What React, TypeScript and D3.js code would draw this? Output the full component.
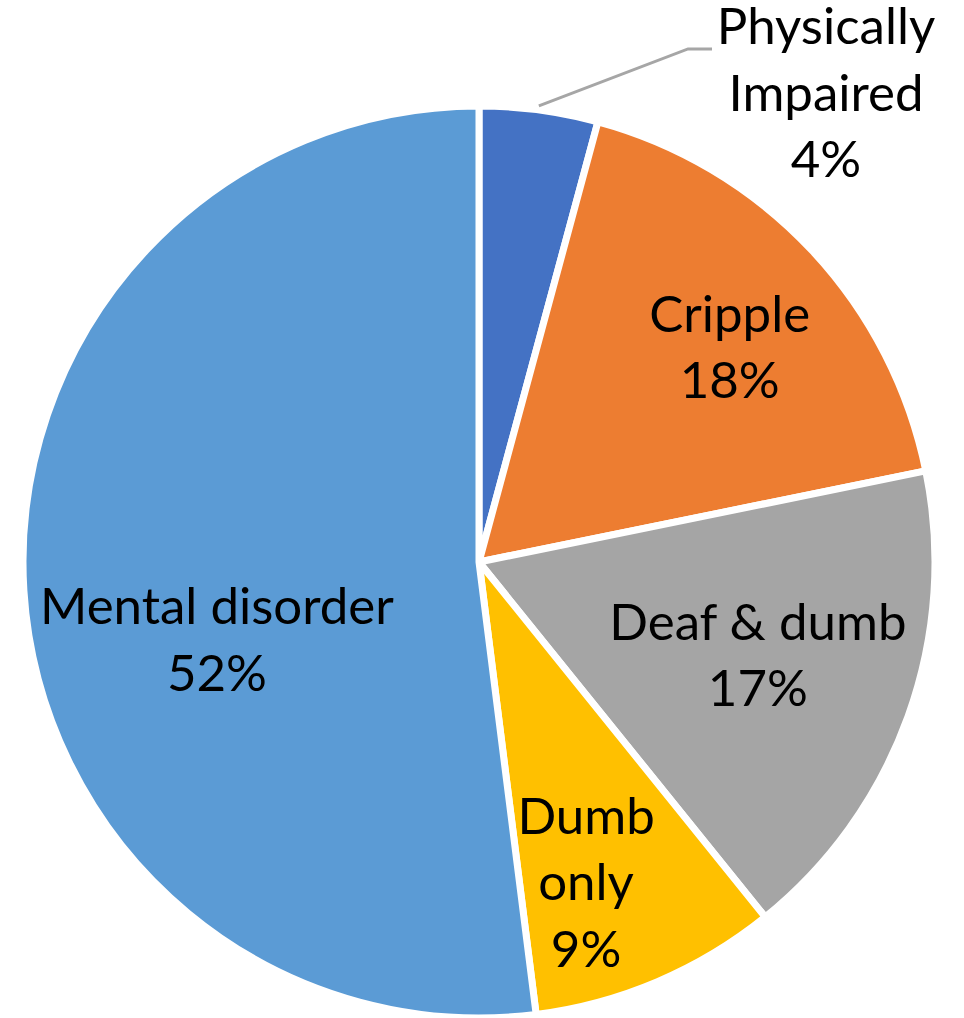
import React from "react";
import * as d3 from "d3";

const categories = ["Physically Impaired", "Cripple", "Deaf & dumb", "Dumb only", "Mental disorder"];
const values = [4.2, 17.6, 17.4, 8.8, 52.0];
const colors = ["#4472C4", "#ED7D31", "#A5A5A5", "#FFC000", "#5B9BD5"];
// label line breaks per category
const labelLines = [["Physically", "Impaired"], ["Cripple"], ["Deaf & dumb"], ["Dumb", "only"], ["Mental disorder"]];
// label placement: radius fraction and pixel nudge
const labelK = [0, 0.7, 0.65, 0.74, 0.6];
const labelNudge: [number, number][] = [[0, 0], [18, 5], [0, -6], [-25, 11], [11, 62]];

const W = 964;
const H = 1018;
const cx = 479;
const cy = 562;
const R = 456;
const FS = 51;
const LH = 66.5;

export default function App() {
  const total = d3.sum(values);
  const pie = d3.pie<number>().sort(null).value((d) => d)(values);
  const arc = d3.arc<d3.PieArcDatum<number>>().innerRadius(0).outerRadius(R);
  const polar = (a: number, r: number): [number, number] => [r * Math.sin(a), -r * Math.cos(a)];

  return (
    <svg width={W} height={H} style={{ position: "absolute", left: 0, top: 0, display: "block", background: "#fff" }}
      fontFamily="Lato, 'Noto Sans', sans-serif" fontSize={FS}>
      <g transform={`translate(${cx},${cy})`}>
        {pie.map((p, i) => (
          <path key={i} d={arc(p) || ""} fill={colors[i]} stroke="#fff" strokeWidth={7} strokeLinejoin="miter" />
        ))}
        {pie.map((p, i) => {
          const mid = (p.startAngle + p.endAngle) / 2;
          const pct = `${Math.round((values[i] / total) * 100)}%`;
          const lines = [...labelLines[i], pct];
          let ax: number, ay: number;
          let leader: React.ReactNode = null;
          if (labelK[i] === 0) {
            const [sx, sy] = polar(mid, R - 1);
            ax = 347;
            ay = -468;
            const ex = ax - 138;
            const ey = sy - 55 - 7;
            leader = (
              <polyline points={`${sx},${sy - 5} ${ex},${ey} ${ex + 24},${ey}`} fill="none" stroke="#A6A6A6" strokeWidth={3} />
            );
          } else {
            const [px, py] = polar(mid, R * labelK[i]);
            ax = px + labelNudge[i][0];
            ay = py + labelNudge[i][1];
          }
          const n = lines.length;
          return (
            <g key={`l${i}`}>
              {leader}
              <text textAnchor="middle" fill="#000">
                {lines.map((t, j) => (
                  <tspan key={j} x={ax} y={ay + (j - (n - 1) / 2) * LH + 16.5}>{t}</tspan>
                ))}
              </text>
            </g>
          );
        })}
      </g>
    </svg>
  );
}
